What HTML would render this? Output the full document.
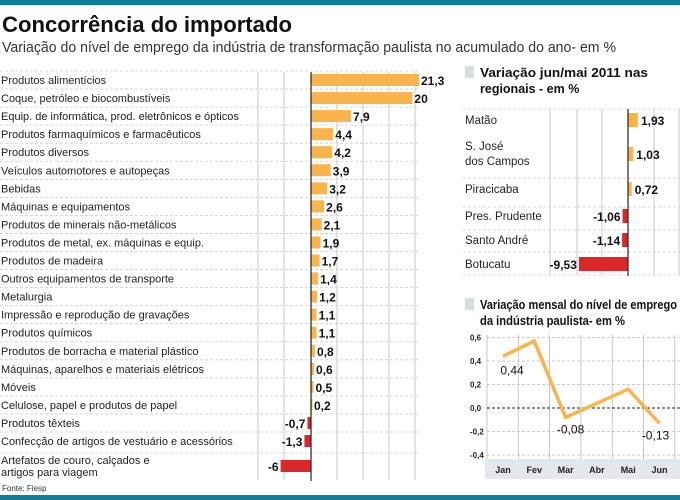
<!DOCTYPE html>
<html><head><meta charset="utf-8">
<style>
body{margin:0;background:#fff;}
svg{display:block;font-family:"Liberation Sans",sans-serif;}
.cond{font-family:"Liberation Sans Narrow","Liberation Sans",sans-serif;}
</style></head><body>
<svg id="s" width="680" height="500" viewBox="0 0 680 500" xmlns="http://www.w3.org/2000/svg">
<rect x="0" y="0" width="680" height="5" fill="#0e7f96"/>
<rect x="0" y="495" width="680" height="5" fill="#0e7f96"/>
<text x="2" y="32" font-size="22" font-weight="bold" fill="#111" textLength="290" lengthAdjust="spacingAndGlyphs">Concorrência do importado</text>
<text x="2" y="52" font-size="15" fill="#333" textLength="614" lengthAdjust="spacingAndGlyphs">Variação do nível de emprego da indústria de transformação paulista no acumulado do ano- em %</text>
<text x="2" y="491" font-size="8" fill="#333">Fonte: Fiesp</text>
<g id="left"></g>
<g id="right"></g>
<g id="line"></g>
</svg>
<script>
const sectors=["Produtos alimentícios","Coque, petróleo e biocombustíveis","Equip. de informática, prod. eletrônicos e ópticos","Produtos farmaquímicos e farmacêuticos","Produtos diversos","Veículos automotores e autopeças","Bebidas","Máquinas e equipamentos","Produtos de minerais não-metálicos","Produtos de metal, ex. máquinas e equip.","Produtos de madeira","Outros equipamentos de transporte","Metalurgia","Impressão e reprodução de gravações","Produtos químicos","Produtos de borracha e material plástico","Máquinas, aparelhos e materiais elétricos","Móveis","Celulose, papel e produtos de papel","Produtos têxteis","Confecção de artigos de vestuário e acessórios","Artefatos de couro, calçados e|artigos para viagem"];
const sectorValues=[21.3,20,7.9,4.4,4.2,3.9,3.2,2.6,2.1,1.9,1.7,1.4,1.2,1.1,1.1,0.8,0.6,0.5,0.2,-0.7,-1.3,-6];
const sectorLabels=["21,3","20","7,9","4,4","4,2","3,9","3,2","2,6","2,1","1,9","1,7","1,4","1,2","1,1","1,1","0,8","0,6","0,5","0,2","-0,7","-1,3","-6"];
const regions=["Matão","S. José|dos Campos","Piracicaba","Pres. Prudente","Santo André","Botucatu"];
const regionValues=[1.93,1.03,0.72,-1.06,-1.14,-9.53];
const regionLabels=["1,93","1,03","0,72","-1,06","-1,14","-9,53"];
const months=["Jan","Fev","Mar","Abr","Mai","Jun"];
const monthValues=[0.44,0.57,-0.08,0.04,0.16,-0.13];
const monthLabels=["0,44",null,"-0,08",null,null,"-0,13"];
const yTicks=[0.6,0.4,0.2,0.0,-0.2,-0.4];
const yTickLabels=["0,6","0,4","0,2","0,0","-0,2","-0,4"];

const NS="http://www.w3.org/2000/svg";
function mk(parent,tag,attrs,text){const e=document.createElementNS(NS,tag);for(const k in attrs)e.setAttribute(k,attrs[k]);if(text!=null)e.textContent=text;parent.appendChild(e);return e;}
const ORANGE="#f9b44c",RED="#d9272b",GRID="#bbb";

// LEFT chart
const L=document.getElementById('left');
const lx=v=>311+v*5.07;
const ly=i=>i<21?80+i*18.05:466;
[258,284,337,363,389,415].forEach(x=>{const g=mk(L,'line',{x1:x,x2:x,y1:72,y2:480,stroke:GRID,'stroke-width':0.8});});
for(let i=0;i<=21;i++){const y=i<21?71+i*18.05:453;const g=mk(L,'line',{x1:0,x2:420,y1:y,y2:y,stroke:'#ccc','stroke-dasharray':'3,2','stroke-width':0.8});}
sectors.forEach((s,i)=>{
  const y=ly(i),v=sectorValues[i];
  const parts=s.split('|');
  const t=mk(L,'text',{x:1,y:parts.length>1?y-2:y+4,'font-size':11,fill:'#222',class:'cond'});
  
  
  parts.forEach((p,k)=>mk(t,'tspan',{x:1,dy:k?12:0},p));
  const x0=Math.min(lx(0),lx(v)),w=Math.abs(lx(v)-lx(0));
  const r=mk(L,'rect',{x:x0,y:y-6,width:Math.max(w,1.5),height:12,fill:v>=0?ORANGE:RED});
  
  
  const lb=mk(L,'text',{x:v>=0?lx(v)+2:lx(v)-2,y:y+5,'font-size':12,'font-weight':'bold',fill:'#111','text-anchor':v>=0?'start':'end'},sectorLabels[i]);
  
  
});
const la=mk(L,'line',{x1:311,x2:311,y1:72,y2:481,stroke:'#222','stroke-width':1.2});



// RIGHT chart
const R=document.getElementById('right');
const t1=mk(R,'rect',{x:465,y:66,width:9,height:12,fill:'#d4dfe3'});

const tt=mk(R,'text',{x:480,y:77,'font-size':12.5,'font-weight':'bold',fill:'#111'});

mk(tt,'tspan',{x:480,textLength:168,lengthAdjust:'spacingAndGlyphs'},'Variação jun/mai 2011 nas');mk(tt,'tspan',{x:480,dy:16},'regionais - em %');
const rx=v=>628+v*5.15;
const ry=[120,154,189,216,240,264];
[550,577,602,654,679].forEach(x=>{const g=mk(R,'line',{x1:x,x2:x,y1:109,y2:275,stroke:GRID,'stroke-width':0.8});});
[109,178,207,230,252,275].forEach(y=>{const g=mk(R,'line',{x1:463,x2:680,y1:y,y2:y,stroke:'#ccc','stroke-dasharray':'3,2','stroke-width':0.8});});
regions.forEach((s,i)=>{
  const y=ry[i],v=regionValues[i];
  const parts=s.split('|');
  const t=mk(R,'text',{x:465,y:parts.length>1?y-4:y+4,'font-size':11.5,fill:'#222',class:'cond'});
  
  
  parts.forEach((p,k)=>mk(t,'tspan',{x:465,dy:k?15:0},p));
  const x0=Math.min(rx(0),rx(v)),w=Math.abs(rx(v)-rx(0));
  const r=mk(R,'rect',{x:x0,y:y-7,width:Math.max(w,1.5),height:14,fill:v>=0?ORANGE:RED});
  
  
  const lb=mk(R,'text',{x:v>=0?rx(v)+3:rx(v)-2,y:y+5,'font-size':12,'font-weight':'bold',fill:'#111','text-anchor':v>=0?'start':'end'},regionLabels[i]);
  
  
});
const ra=mk(R,'line',{x1:628,x2:628,y1:109,y2:276,stroke:'#222','stroke-width':1.2});


// LINE chart
const M=document.getElementById('line');
const t2=mk(M,'rect',{x:465,y:298,width:9,height:12,fill:'#d4dfe3'});

const mt=mk(M,'text',{x:480,y:309,'font-size':12.5,'font-weight':'bold',fill:'#111'});

mk(mt,'tspan',{x:480,textLength:197,lengthAdjust:'spacingAndGlyphs'},'Variação mensal do nível de emprego');mk(mt,'tspan',{x:480,dy:16,textLength:145,lengthAdjust:'spacingAndGlyphs'},'da indústria paulista- em %');
const mx=i=>503+i*31.3;
const my=v=>408-v*117.5;
const band=mk(M,'rect',{x:485,y:459,width:195,height:20,fill:'#e4e8ea'});

for(let k=0;k<=6;k++){const x=487+k*31.3;const g=mk(M,'line',{x1:x,x2:x,y1:335,y2:459,stroke:GRID,'stroke-width':0.8});}
yTicks.forEach((v,k)=>{
  const y=my(v);
  const g=mk(M,'line',{x1:487,x2:680,y1:y,y2:y,stroke:v===0?'#222':'#bbb','stroke-dasharray':'3,2','stroke-width':v===0?1.1:0.8});
  
  const t=mk(M,'text',{x:470,y:y+3,'font-size':8,'font-weight':'bold',fill:'#222'},yTickLabels[k]);
  
});
months.forEach((m,i)=>{const t=mk(M,'text',{x:mx(i),y:473,'font-size':9,'font-weight':'bold',fill:'#222','text-anchor':'middle'},m);});
const pl=mk(M,'polyline',{points:monthValues.map((v,i)=>mx(i)+','+my(v)).join(' '),fill:'none',stroke:ORANGE,'stroke-width':3.5,'stroke-linejoin':'miter'});

monthLabels.forEach((l,i)=>{if(!l)return;const t=mk(M,'text',{x:mx(i)+(i===5?-4:(i===0?9:5)),y:my(monthValues[i])+(i===0?18:16),'font-size':12,fill:'#111','text-anchor':'middle'},l);});
</script>
</body></html>
